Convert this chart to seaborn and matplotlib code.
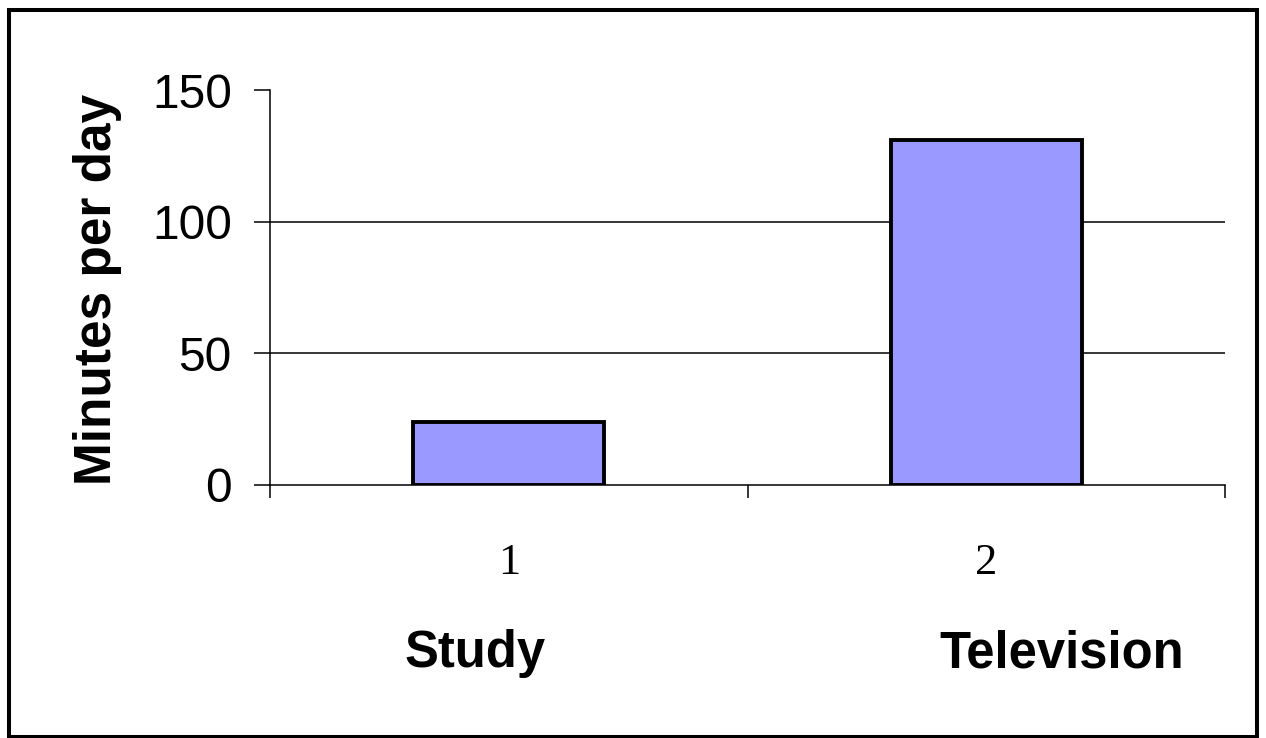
import matplotlib
matplotlib.use("Agg")
import matplotlib.pyplot as plt
from matplotlib.patches import Rectangle
import seaborn as sns
import pandas as pd

# Average minutes spent per day on each activity
activities = ["Study", "Television"]
positions = ["1", "2"]
minutes = [24, 131]
y_ticks = [0, 50, 100, 150]

df = pd.DataFrame({"pos": positions, "minutes": minutes})

sns.set_theme(style="white")
plt.rcParams["font.family"] = ["Liberation Sans", "DejaVu Sans"]

fig = plt.figure(figsize=(12.66, 7.38), dpi=100)
ax = fig.add_axes([270 / 1266, 1 - 485 / 738, 955 / 1266, 395 / 738])

sns.barplot(data=df, x="pos", y="minutes", ax=ax, color="#9999FF",
            saturation=1, width=0.4, edgecolor="black", linewidth=2.8,
            zorder=3)

ax.set_ylim(y_ticks[0], y_ticks[-1])
ax.set_xlim(-0.5, len(positions) - 0.5)
ax.set_yticks(y_ticks)
ax.set_yticklabels([str(t) for t in y_ticks], fontsize=34.5,
                   fontfamily="Liberation Sans")
ax.set_xticks(range(len(positions)))
ax.set_xticklabels(positions, fontsize=32, fontfamily="Liberation Serif")
ax.set_xticks([i - 0.5 for i in range(len(positions) + 1)], minor=True)

ax.tick_params(axis="y", which="major", left=True, length=11.5, width=1.1,
               color="black", pad=16, labelcolor="black")
ax.tick_params(axis="x", which="major", bottom=True, length=0, pad=42,
               labelcolor="black")
ax.tick_params(axis="x", which="minor", bottom=True, length=9.5, width=1.1,
               color="black", direction="out")

# horizontal gridlines at the interior ticks only
for t in y_ticks[1:-1]:
    ax.axhline(t, color="black", linewidth=1.1, zorder=1)

for side in ("top", "right"):
    ax.spines[side].set_visible(False)
for side in ("left", "bottom"):
    ax.spines[side].set_color("black")
    ax.spines[side].set_linewidth(1.1)

ax.set_xlabel("")
ax.set_ylabel("Minutes per day", fontsize=37, fontweight="bold",
              color="black")
ax.yaxis.set_label_coords(-0.155, 0.494)

# activity names beneath the position numbers
for name, xc in zip(activities, [475 / 1266, 1061.5 / 1266]):
    fig.text(xc, 1 - 667 / 738, name, ha="center", va="baseline",
             fontsize=36.5, fontweight="bold", color="black")

# outer frame around the chart
fig.patches.append(Rectangle((8.5 / 1266, 1 / 738), 1248 / 1266, 727.5 / 738,
                             transform=fig.transFigure, fill=False,
                             edgecolor="black", linewidth=2.9))

fig.savefig("out.png", dpi=100, facecolor="white")
